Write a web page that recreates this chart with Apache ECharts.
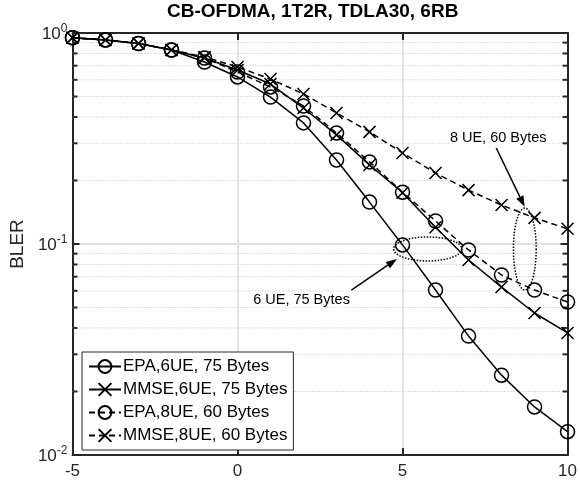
<!DOCTYPE html>
<html>
<head>
<meta charset="utf-8">
<script src="https://cdn.jsdelivr.net/npm/echarts@6/dist/echarts.min.js"></script>
<style>
	html,body{margin:0;padding:0;background:#fff;}
	#chart{width:580px;height:484px;}
</style>
</head>
<body>
<div id="chart"></div>
<script>
	// SNR (dB) on x
	var snr = [-5, -4, -3, -2, -1, 0, 1, 2, 3, 4, 5, 6, 7, 8, 9, 10];
	// BLER curves
	var epa6 = [0.95, 0.927, 0.892, 0.831, 0.729, 0.619, 0.497, 0.375, 0.25, 0.158, 0.099, 0.0605, 0.0366, 0.0239, 0.0169, 0.0129];
	var mmse6 = [0.95, 0.927, 0.892, 0.831, 0.761, 0.668, 0.573, 0.441, 0.329, 0.237, 0.175, 0.12, 0.084, 0.0625, 0.0471, 0.0379];
	var epa8 = [0.95, 0.927, 0.892, 0.831, 0.761, 0.653, 0.555, 0.451, 0.336, 0.245, 0.176, 0.1285, 0.0937, 0.0713, 0.0605, 0.0531];
	var mmse8 = [0.95, 0.927, 0.892, 0.831, 0.77, 0.69, 0.605, 0.514, 0.418, 0.34, 0.27, 0.217, 0.18, 0.153, 0.133, 0.118];
	var seriesNames = ['EPA,6UE, 75 Bytes', 'MMSE,6UE, 75 Bytes', 'EPA,8UE, 60 Bytes', 'MMSE,8UE, 60 Bytes'];
	var xRange = [-5, 10];
	var yRange = [0.01, 1];
	var minorLevels = [0.02, 0.03, 0.04, 0.05, 0.06, 0.07, 0.08, 0.09, 0.2, 0.3, 0.4, 0.5, 0.6, 0.7, 0.8, 0.9];

	// annotations, in data coordinates
	var noteTexts = ['8 UE, 60 Bytes', '6 UE, 75 Bytes'];
	var noteAt = [[7.9, 0.318], [1.94, 0.0543]];
	var arrows = [[7.84, 0.285, 8.7, 0.150], [3.45, 0.0605, 4.83, 0.0849]];
	var ellipses = [[8.36, 0.148, 9.05, 0.0605], [4.73, 0.108, 6.8, 0.0831]];

	var FONT = 'Liberation Sans, Arial, sans-serif';
	var AX = '#262626';
	var crossPath = 'path://M0,0L10,10M10,0L0,10';

	function pairs(ys){
		return snr.map(function(x, i){ return [x, ys[i]]; });
	}

	function lineSeries(name, ys, symbol, dashed){
		return {
			name: name,
			type: 'line',
			data: pairs(ys),
			symbol: symbol,
			symbolSize: symbol == 'circle' ? 14 : 12,
			showSymbol: true,
			lineStyle: {color: '#000', width: 1.5, type: dashed ? [6, 4] : 'solid'},
			itemStyle: {color: 'rgba(0,0,0,0)', borderColor: '#000', borderWidth: 1.5},
			emphasis: {disabled: true},
			z: 5
		};
	}

	var chart = echarts.init(document.getElementById('chart'));
	var option = {
		animation: false,
		backgroundColor: '#fff',
		textStyle: {fontFamily: FONT},
		title: {
			text: 'CB-OFDMA, 1T2R, TDLA30, 6RB',
			left: 167,
			top: 2,
			padding: 0,
			textStyle: {fontSize: 19, fontWeight: 'bold', color: '#000', fontFamily: FONT}
		},
		grid: {left: 72, right: 8, top: 33, bottom: 29},
		legend: {
			data: seriesNames,
			orient: 'vertical',
			left: 82,
			top: 352,
			padding: [6, 6, 6, 6],
			itemGap: 6,
			itemWidth: 32,
			itemHeight: 16,
			backgroundColor: '#fff',
			borderColor: AX,
			borderWidth: 1,
			borderRadius: 0,
			textStyle: {fontSize: 17, color: '#000', fontFamily: FONT, padding: [0, 0, 0, -3]}
		},
		xAxis: [
			{
				type: 'value', min: xRange[0], max: xRange[1], interval: 5,
				axisLine: {onZero: false, lineStyle: {color: AX, width: 2}},
				axisTick: {inside: true, length: 7, lineStyle: {color: AX, width: 2}},
				axisLabel: {fontSize: 17, color: AX, margin: 8, fontFamily: FONT},
				splitLine: {show: true, lineStyle: {color: '#e3e3e3', width: 2}}
			},
			{
				type: 'value', position: 'top', min: xRange[0], max: xRange[1], interval: 5,
				axisLine: {onZero: false, lineStyle: {color: AX, width: 2}},
				axisTick: {inside: true, length: 7, lineStyle: {color: AX, width: 2}},
				axisLabel: {show: false},
				splitLine: {show: false}
			}
		],
		yAxis: [
			{
				type: 'log', logBase: 10, min: yRange[0], max: yRange[1],
				name: 'BLER', nameLocation: 'middle', nameGap: 42,
				nameTextStyle: {fontSize: 19, color: AX, fontFamily: FONT},
				axisLine: {onZero: false, lineStyle: {color: AX, width: 2}},
				axisTick: {inside: true, length: 7, lineStyle: {color: AX, width: 2}},
				axisLabel: {
					margin: 5,
					formatter: function(v){
						var e = Math.round(Math.log(v) / Math.LN10);
						return '{b|10}{s|' + e + '}';
					},
					rich: {
						b: {fontSize: 17, lineHeight: 20, color: AX, fontFamily: FONT, padding: [3, 0, 0, 0]},
						s: {fontSize: 12, color: AX, fontFamily: FONT, verticalAlign: 'top'}
					}
				},
				splitLine: {show: true, lineStyle: {color: '#e3e3e3', width: 2}}
			},
			{
				type: 'log', logBase: 10, min: yRange[0], max: yRange[1], position: 'right',
				axisLine: {onZero: false, lineStyle: {color: AX, width: 2}},
				axisTick: {inside: true, length: 7, lineStyle: {color: AX, width: 2}},
				axisLabel: {show: false},
				splitLine: {show: false}
			}
		],
		series: [
			{
				// minor log grid lines + small ticks at both edges
				type: 'custom',
				silent: true,
				z: 1,
				data: minorLevels.map(function(v){ return [xRange[0], v]; }),
				renderItem: function(params, api){
					var v = api.value(1);
					var a = api.coord([xRange[0], v]);
					var b = api.coord([xRange[1], v]);
					return {
						type: 'group',
						children: [
							{type: 'line', shape: {x1: a[0], y1: a[1], x2: b[0], y2: b[1]},
								style: {stroke: '#bdbdbd', lineWidth: 1, lineDash: [1, 2]}},
							{type: 'line', shape: {x1: a[0], y1: a[1], x2: a[0] + 5, y2: a[1]},
								style: {stroke: AX, lineWidth: 2}},
							{type: 'line', shape: {x1: b[0] - 5, y1: b[1], x2: b[0], y2: b[1]},
								style: {stroke: AX, lineWidth: 2}}
						]
					};
				}
			},
			lineSeries(seriesNames[0], epa6, 'circle', false),
			lineSeries(seriesNames[1], mmse6, crossPath, false),
			lineSeries(seriesNames[2], epa8, 'circle', true),
			lineSeries(seriesNames[3], mmse8, crossPath, true),
			{
				// dotted ellipses
				type: 'custom',
				silent: true,
				z: 6,
				data: ellipses,
				encode: {x: [0, 2], y: [1, 3]},
				renderItem: function(params, api){
					var p0 = api.coord([api.value(0), api.value(1)]);
					var p1 = api.coord([api.value(2), api.value(3)]);
					var cx = (p0[0] + p1[0]) / 2, cy = (p0[1] + p1[1]) / 2;
					var rx = Math.abs(p1[0] - p0[0]) / 2, ry = Math.abs(p1[1] - p0[1]) / 2;
					var pts = [];
					for(var i = 0; i < 72; i++){
						var t = i / 72 * Math.PI * 2;
						pts.push([cx + rx * Math.cos(t), cy + ry * Math.sin(t)]);
					}
					return {type: 'polygon', shape: {points: pts},
						style: {fill: 'none', stroke: '#000', lineWidth: 1.5, lineDash: [1.5, 1.5]}};
				}
			},
			{
				// arrows
				type: 'custom',
				silent: true,
				z: 6,
				data: arrows,
				encode: {x: [0, 2], y: [1, 3]},
				renderItem: function(params, api){
					var s = api.coord([api.value(0), api.value(1)]);
					var e = api.coord([api.value(2), api.value(3)]);
					var ang = Math.atan2(e[1] - s[1], e[0] - s[0]);
					var L = 11, W = 4;
					var bx = e[0] - L * Math.cos(ang), by = e[1] - L * Math.sin(ang);
					var head = [
						[e[0], e[1]],
						[bx + W * Math.sin(ang), by - W * Math.cos(ang)],
						[bx - W * Math.sin(ang), by + W * Math.cos(ang)]
					];
					return {
						type: 'group',
						children: [
							{type: 'line', shape: {x1: s[0], y1: s[1], x2: bx, y2: by},
								style: {stroke: '#000', lineWidth: 1.5}},
							{type: 'polygon', shape: {points: head}, style: {fill: '#000'}}
						]
					};
				}
			},
			{
				// annotation texts
				type: 'custom',
				silent: true,
				z: 7,
				data: noteAt,
				renderItem: function(params, api){
					var p = api.coord([api.value(0), api.value(1)]);
					return {type: 'text', x: p[0], y: p[1],
						style: {text: noteTexts[params.dataIndex], fill: '#000', font: '14.5px ' + FONT,
							align: 'center', verticalAlign: 'middle', backgroundColor: '#fff'}};
				}
			}
		]
	};
	chart.setOption(option);
</script>
</body>
</html>
